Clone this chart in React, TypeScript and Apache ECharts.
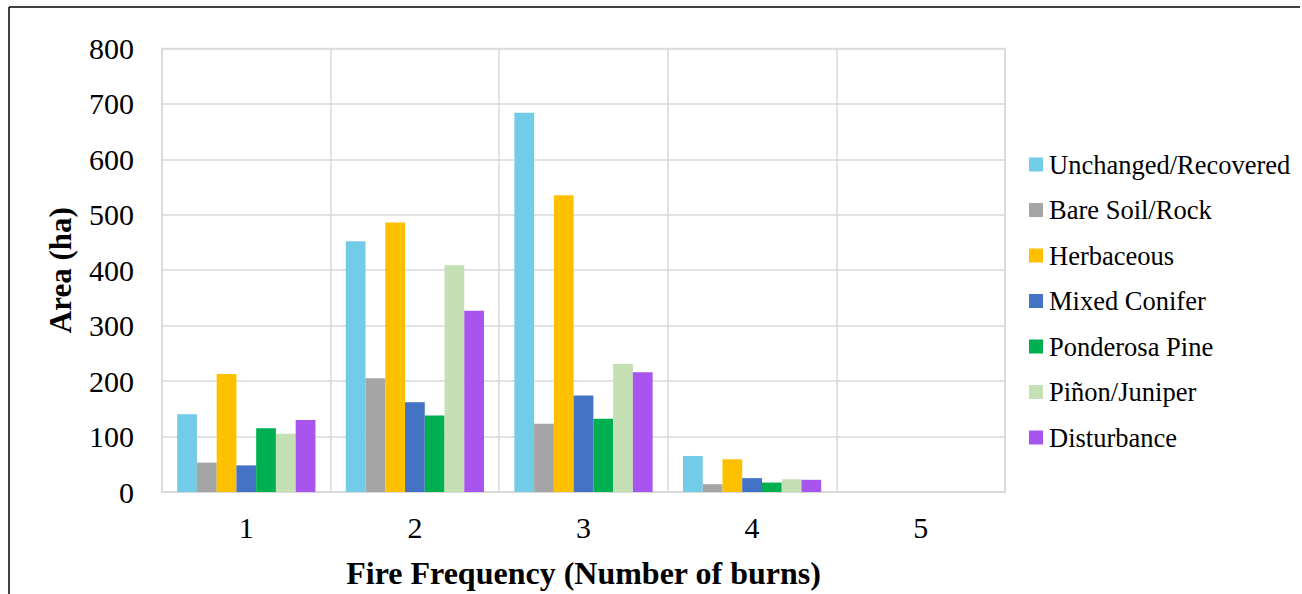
import React, { useEffect, useRef } from "react";
import * as echarts from "echarts";

// Burn-count categories on the x axis
const categories = ["1", "2", "3", "4", "5"];

// Area (ha) per land-cover class for each fire frequency
const unchangedRecovered = [140, 452, 684, 65, 0];
const bareSoilRock = [53, 205, 123, 14, 0];
const herbaceous = [213, 486, 535, 59, 0];
const mixedConifer = [48, 162, 174, 25, 0];
const ponderosaPine = [115, 138, 132, 17, 0];
const pinonJuniper = [105, 409, 231, 23, 0];
const disturbance = [130, 327, 216, 22, 0];

const seriesNames = [
  "Unchanged/Recovered",
  "Bare Soil/Rock",
  "Herbaceous",
  "Mixed Conifer",
  "Ponderosa Pine",
  "Piñon/Juniper",
  "Disturbance",
];
const seriesValues = [
  unchangedRecovered,
  bareSoilRock,
  herbaceous,
  mixedConifer,
  ponderosaPine,
  pinonJuniper,
  disturbance,
];
const seriesColors = [
  "#72CBE7",
  "#A5A5A5",
  "#FFC000",
  "#4472C4",
  "#00B050",
  "#C5E0B4",
  "#A855F0",
];

const FONT = "'Liberation Serif', 'Times New Roman', serif";

export default function App() {
  const ref = useRef<HTMLDivElement>(null);

  useEffect(() => {
    if (!ref.current) return;
    const chart = echarts.init(ref.current, null, { renderer: "svg" });
    chart.setOption({
      animation: false,
      backgroundColor: "#ffffff",
      textStyle: { fontFamily: FONT },
      grid: {
        left: 162,
        right: 297,
        top: 48.4,
        bottom: 100.7,
        show: true,
        borderColor: "#D9D9D9",
        borderWidth: 1.5,
      },
      legend: {
        orient: "vertical",
        left: 1024,
        top: 146,
        itemWidth: 14,
        itemHeight: 14,
        itemGap: 18.5,
        icon: "rect",
        data: seriesNames,
        textStyle: {
          fontFamily: FONT,
          fontSize: 26.5,
          lineHeight: 26,
          color: "#000000",
          padding: [0, 0, 0, 1],
        },
      },
      xAxis: {
        type: "category",
        data: categories,
        name: "Fire Frequency (Number of burns)",
        nameLocation: "middle",
        nameGap: 65,
        nameTextStyle: {
          fontFamily: FONT,
          fontSize: 32,
          fontWeight: "bold",
          color: "#000000",
        },
        axisLine: { show: true, lineStyle: { color: "#D9D9D9", width: 1.5 } },
        axisTick: { show: false },
        splitLine: { show: true, lineStyle: { color: "#D9D9D9", width: 1.5 } },
        axisLabel: {
          fontFamily: FONT,
          fontSize: 30,
          color: "#000000",
          margin: 20,
        },
      },
      yAxis: {
        type: "value",
        min: 0,
        max: 800,
        interval: 100,
        name: "Area (ha)",
        nameLocation: "middle",
        nameGap: 86,
        nameTextStyle: {
          fontFamily: FONT,
          fontSize: 31,
          fontWeight: "bold",
          color: "#000000",
        },
        axisLine: { show: false },
        axisTick: { show: false },
        splitLine: { show: true, lineStyle: { color: "#D9D9D9", width: 1.5 } },
        axisLabel: {
          fontFamily: FONT,
          fontSize: 30,
          color: "#000000",
          margin: 28,
        },
      },
      series: seriesNames.map((name, i) => ({
        name,
        type: "bar",
        data: seriesValues[i],
        barGap: "0%",
        barCategoryGap: "18%",
        itemStyle: { color: seriesColors[i] },
      })),
      graphic: [
        {
          type: "line",
          shape: { x1: 9, y1: 7, x2: 1300, y2: 7 },
          style: { stroke: "#000000", lineWidth: 1.5 },
        },
        {
          type: "line",
          shape: { x1: 9, y1: 7, x2: 9, y2: 594 },
          style: { stroke: "#000000", lineWidth: 1.5 },
        },
      ],
    });
    return () => chart.dispose();
  }, []);

  return (
    <div
      ref={ref}
      style={{ position: "fixed", left: 0, top: 0, width: 1302, height: 594 }}
    />
  );
}
